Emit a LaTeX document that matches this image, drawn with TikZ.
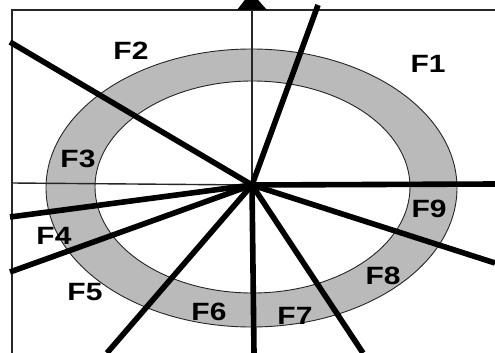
\documentclass[tikz,border=0pt]{standalone}
\usepackage{fontspec}
\setmainfont{Liberation Sans}
\begin{document}
\begin{tikzpicture}[x=1pt,y=-1pt,
  thin line/.style={line width=1.4pt,draw=black!85},
  ray/.style={line width=5.6pt,draw=black},
  ringfill/.style={fill=black!27,draw=black!85,line width=0.9pt,even odd rule},
  lab/.style={font=\fontsize{25}{25}\selectfont\bfseries,xscale=1.2,inner sep=0pt}]
\useasboundingbox (0,0) rectangle (495,353);
\fill[white] (0,0) rectangle (495,353);
% frame
\draw[thin line] (12,353) -- (12,10) -- (495,10);
% ring
\path[ringfill] (251.5,188) ellipse [x radius=205.5, y radius=139]
                (252.5,187) ellipse [x radius=157.5, y radius=106];
% axes
\coordinate (C) at (252,185);
\coordinate (AL) at (12,183);
\coordinate (AT) at (252,6);
\draw[thin line] (AL) -- (C);
\draw[thin line] (C) -- (AT);
\fill[black] (237,10) -- (251,-8) -- (267,10) -- cycle;
% rays
\coordinate (R1) at (318,5);
\coordinate (R2) at (10,42);
\coordinate (R3) at (495,184);
\coordinate (R4) at (495,263);
\coordinate (R5) at (363,353);
\coordinate (R6) at (254,353);
\coordinate (R7) at (107,353);
\coordinate (R8) at (10,272);
\coordinate (R9) at (10,217);
\foreach \n in {1,...,9} \draw[ray] (C) -- (R\n);
% labels
\node[lab] (F1) at (428,64) {F1};
\node[lab] (F2) at (131,51) {F2};
\node[lab] (F3) at (78,159) {F3};
\node[lab] (F4) at (54,236) {F4};
\node[lab] (F5) at (85,292) {F5};
\node[lab] (F6) at (209,312) {F6};
\node[lab] (F7) at (295,316) {F7};
\node[lab] (F8) at (383,276) {F8};
\node[lab] (F9) at (429,209) {F9};
\end{tikzpicture}
\end{document}
